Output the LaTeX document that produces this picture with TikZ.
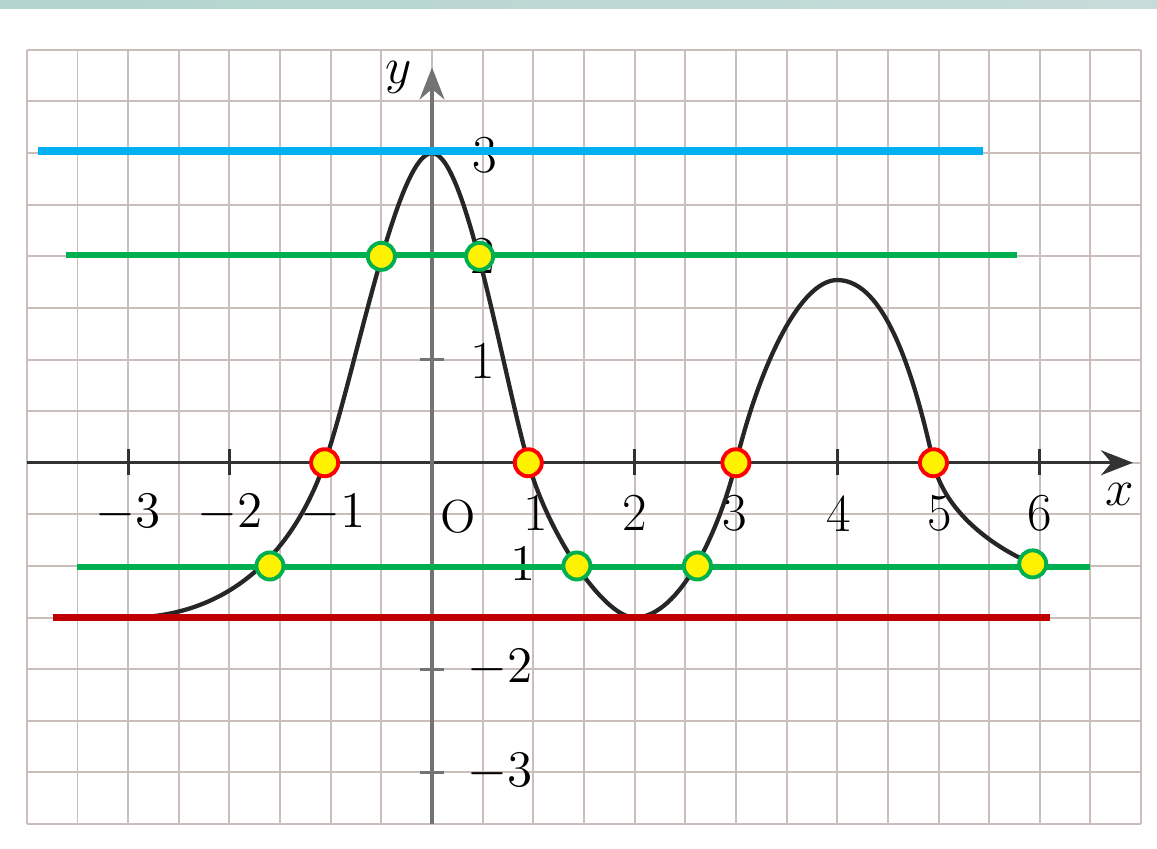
\documentclass[tikz,border=0pt]{standalone}
\usepackage{amsmath,amssymb}
\usepackage{tikz}
\usetikzlibrary{arrows.meta,calc}
\usepackage{xcolor}
\definecolor{gridc}{RGB}{202,190,186}
\definecolor{lineblue}{RGB}{0,176,240}
\definecolor{linegreen}{RGB}{0,176,80}
\definecolor{linered}{RGB}{192,0,0}
\definecolor{bandl}{RGB}{178,212,206}
\definecolor{bandm}{RGB}{210,234,229}
\definecolor{bandr}{RGB}{198,220,218}

\begin{document}
\begin{tikzpicture}[x=1cm,y=1.019cm,every node/.style={font=\fontsize{15}{18}\selectfont},
  gdot/.style={circle,draw=linegreen,fill=yellow,line width=1.1pt,minimum size=7.6pt,inner sep=0pt},
  rdot/.style={circle,draw=red,fill=yellow,line width=1.1pt,minimum size=7.6pt,inner sep=0pt}]
\useasboundingbox (-4.265,-3.734) rectangle (7.157,4.483);
\fill[white] (-4.265,-3.734) rectangle (7.157,4.483);
\shade[left color=bandl,middle color=bandm,right color=bandr] (-4.265,4.405) rectangle (7.157,4.483);
\draw[gridc,line width=0.55pt] (-4,-3.5) grid[step=0.5] (7,4);
\draw[black!80,line width=0.9pt,-{Stealth[length=9pt,width=7pt]}] (-4,0) -- (6.92,0);
\draw[black!55,line width=1pt,-{Stealth[length=9pt,width=7pt]}] (0,-3.5) -- (0,3.83);
\foreach \i in {-3,-2,-1,1,2,3,4,5,6} \draw[black!80,line width=0.8pt] (\i,0.13) -- (\i,-0.12);
\foreach \j in {-3,-2,-1,1,2,3} \draw[black!55,line width=0.8pt] (-0.12,\j) -- (0.12,\j);
\node (lxm3) at (-3,-0.49) {$-3$};
\node (lxm2) at (-1.99,-0.49) {$-2$};
\node (lxm1) at (-0.98,-0.49) {$-1$};
\node[font=\fontsize{13}{15}\selectfont] (lo) at (0.26,-0.52) {O};
\node (lx1) at (1.02,-0.49) {1};
\node (lx2) at (2,-0.49) {2};
\node (lx3) at (2.99,-0.49) {3};
\node (lx4) at (4.02,-0.49) {4};
\node (lx5) at (5.01,-0.49) {5};
\node (lx6) at (6,-0.49) {6};
\node (lxx) at (6.79,-0.31) {$x$};
\node (lyy) at (-0.33,3.73) {$y$};
\node (ly3) at (0.52,2.98) {3};
\node (ly2) at (0.5,2) {2};
\node (ly1) at (0.5,0.99) {1};
\node (lym1) at (0.7,-1) {$-1$};
\node (lym2) at (0.67,-1.99) {$-2$};
\node (lym3) at (0.67,-3) {$-3$};
\draw[black!85,line width=1.2pt] (-3,-1.5) .. controls (-2.1,-1.5) and (-1.41,-0.98) .. (-1.06,0)
  .. controls (-0.76,0.84) and (-0.35,3) .. (0,3)
  .. controls (0.33,3) and (0.69,0.91) .. (0.95,0)
  .. controls (1.15,-0.7) and (1.7,-1.5) .. (2,-1.5)
  .. controls (2.45,-1.5) and (2.84,-0.64) .. (3,0)
  .. controls (3.25,1) and (3.65,1.77) .. (4,1.77)
  .. controls (4.4,1.77) and (4.7,1.125) .. (4.95,0)
  .. controls (5.05,-0.45) and (5.5,-0.8) .. (5.93,-0.98);
\draw[lineblue,line width=2.2pt] (-3.89,3.02) -- (5.44,3.02);
\draw[linegreen,line width=1.6pt] (-3.61,2.01) -- (5.77,2.01);
\draw[linegreen,line width=1.6pt] (-3.5,-1.01) -- (6.5,-1.01);
\draw[linered,line width=2pt] (-3.74,-1.5) -- (6.1,-1.5);
\node[rdot] (z1) at (-1.06,0) {};
\node[rdot] (z2) at (0.95,0) {};
\node[rdot] (z3) at (3,0) {};
\node[rdot] (z4) at (4.95,0) {};
\node[gdot] (a1) at (-0.5,2) {};
\node[gdot] (a2) at (0.47,2) {};
\node[gdot] (b1) at (-1.6,-1) {};
\node[gdot] (b2) at (1.43,-1) {};
\node[gdot] (b3) at (2.62,-1) {};
\node[gdot] (b4) at (5.93,-0.98) {};
\end{tikzpicture}
\end{document}
